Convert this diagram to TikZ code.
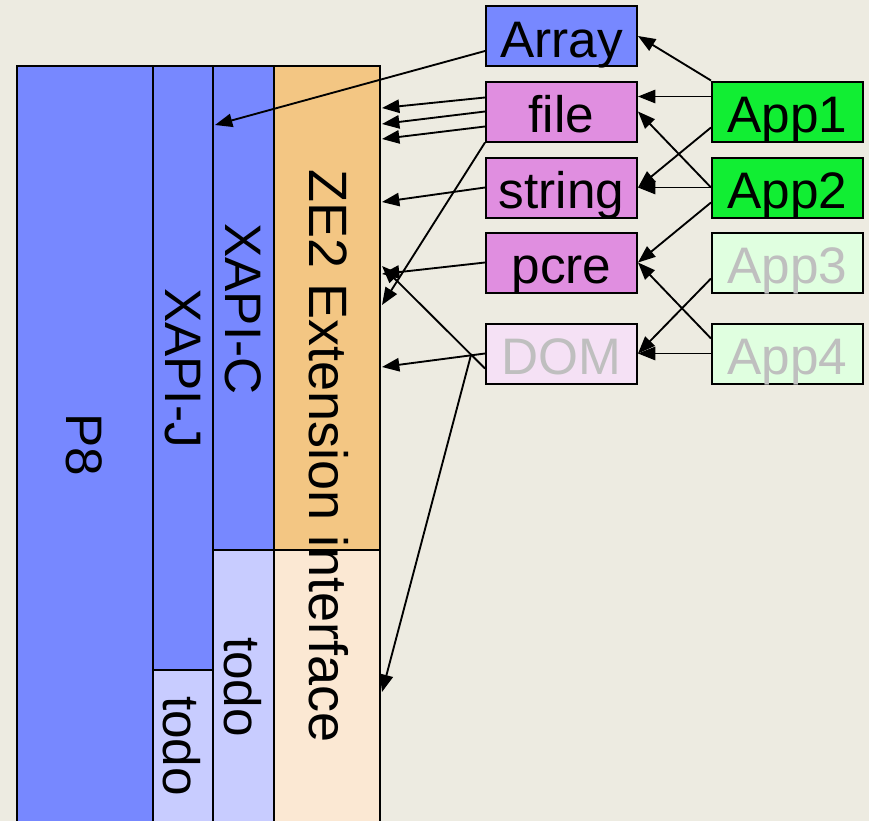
\documentclass[tikz,border=0pt]{standalone}
\usepackage{fontspec}
\setmainfont{Liberation Sans}
\usetikzlibrary{arrows.meta}
\definecolor{paper}{HTML}{EDEBE1}
\definecolor{layerblue}{HTML}{7788FF}
\definecolor{todoblue}{HTML}{C8CCFF}
\definecolor{zeorange}{HTML}{F3C683}
\definecolor{zelight}{HTML}{FBE8D3}
\definecolor{modpink}{HTML}{E08EE0}
\definecolor{dompink}{HTML}{F5E1F5}
\definecolor{appgreen}{HTML}{11EE33}
\definecolor{applight}{HTML}{E0FFE0}
\definecolor{faded}{HTML}{BFBFBF}
\begin{document}
\begin{tikzpicture}[x=0.75pt,y=-0.75pt,
  col/.style={draw=black,line width=1.5pt},
  collabel/.style={rotate=-90,inner sep=0pt,font=\fontsize{38.5}{42}\selectfont},
  box/.style={draw=black,line width=1.5pt,minimum width=151*0.75pt,minimum height=60*0.75pt,
    inner sep=0pt,text height=31.5pt,text depth=0pt,font=\fontsize{38.5}{42}\selectfont},
  fadedbox/.style={box,text=faded},
  arr/.style={-{Triangle[length=13pt,width=10pt]},line width=1.4pt,draw=black}]
\useasboundingbox (0,0) rectangle (869,821);
\fill[paper] (0,0) rectangle (869,821);

% layer stack on the left, running off the bottom edge
\begin{scope}
  \clip (0,0) rectangle (869,821);
  \draw[col,fill=layerblue] (17,66) rectangle (153,840);
  \draw[col,fill=layerblue] (153,66) rectangle (213,670);
  \draw[col,fill=todoblue]  (153,670) rectangle (213,840);
  \draw[col,fill=layerblue] (213,66) rectangle (274,550);
  \draw[col,fill=todoblue]  (213,550) rectangle (274,840);
  \draw[col,fill=zeorange]  (274,66) rectangle (380,550);
  \draw[col,fill=zelight]   (274,550) rectangle (380,840);
\end{scope}

\node[collabel] (p8)    at (84,445)  {P8};
\node[collabel] (xapij) at (183,368) {XAPI-J};
\node[collabel] (todoj) at (182,746) {todo};
\node[collabel] (xapic) at (243,309) {XAPI-C};
\node[collabel] (todoc) at (243,687) {todo};
\node[collabel,font=\fontsize{40.5}{44}\selectfont] (ze2) at (329,456) {ZE2 Extension interface};

% module boxes
\node[box,fill=layerblue] (array)  at (561.5,36)    {Array};
\node[box,fill=modpink]   (file)   at (561.5,111.5) {file};
\node[box,fill=modpink]   (string) at (561.5,187.5) {string};
\node[box,fill=modpink]   (pcre)   at (561.5,262.5) {pcre};
\node[fadedbox,fill=dompink] (dom) at (561.5,353.5) {DOM};

% applications
\node[box,fill=appgreen]       (app1) at (787.5,111.5) {App1};
\node[box,fill=appgreen]       (app2) at (787.5,187.5) {App2};
\node[fadedbox,fill=applight]  (app3) at (787.5,262.5) {App3};
\node[fadedbox,fill=applight]  (app4) at (787.5,353.5) {App4};

% entry points on the layer stack
\coordinate (xj)    at (215,125);
\coordinate (zeA)   at (382,108);
\coordinate (zeB)   at (382,124);
\coordinate (zeC)   at (382,139);
\coordinate (zeD)   at (382,305);
\coordinate (zeS)   at (382,202);
\coordinate (zeP)   at (382,274);
\coordinate (zeQ)   at (382,266);
\coordinate (zeM)   at (382,367);
\coordinate (zeL)   at (382,692);
\coordinate (domfork) at (471,355);

% applications use modules
\draw[arr] (app1.north west) -- (array.east);
\draw[arr] ([shift={(0,-15)}]app1.west) -- ([shift={(0,-15)}]file.east);
\draw[arr] ([shift={(0,16)}]app1.west) -- (string.east);
\draw[arr] (app2.west) -- (file.east);
\draw[arr] (app2.west) -- (string.east);
\draw[arr] ([shift={(0,15)}]app2.west) -- (pcre.east);
\draw[arr] ([shift={(0,16)}]app3.west) -- (dom.east);
\draw[arr] ([shift={(0,-15)}]app4.west) -- (pcre.east);
\draw[arr] (app4.west) -- (dom.east);

% modules use the layers
\draw[arr] ([shift={(0,15)}]array.west) -- (xj);
\draw[arr] ([shift={(0,-14)}]file.west) -- (zeA);
\draw[arr] (file.west) -- (zeB);
\draw[arr] ([shift={(0,15)}]file.west) -- (zeC);
\draw[arr] (file.south west) -- (zeD);
\draw[arr] (string.west) -- (zeS);
\draw[arr] (pcre.west) -- (zeP);
\draw[arr] (dom.west) -- (zeM);
\draw[arr] (domfork) -- (zeL);
\draw[arr] ([shift={(0,15)}]dom.west) -- (zeQ);
\end{tikzpicture}
\end{document}
